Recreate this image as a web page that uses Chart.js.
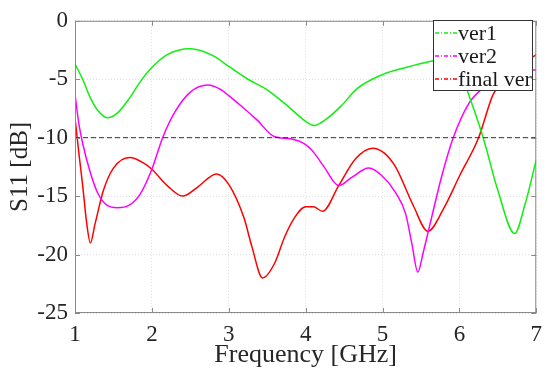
<!DOCTYPE html>
<html>
<head>
<meta charset="utf-8">
<script src="https://cdn.jsdelivr.net/npm/chart.js"></script>
<style>
  html, body { margin: 0; padding: 0; background: #fff; }
  #wrap { width: 550px; height: 380px; }
</style>
</head>
<body>
<div id="wrap"><canvas id="chart"></canvas></div>
<script>
// S11 curves (frequency in GHz, S11 in dB)
const ver1Freq = [1.0, 1.1, 1.2, 1.3, 1.42, 1.55, 1.7, 1.85, 2.0, 2.2, 2.5, 2.8, 3.0, 3.25, 3.5, 3.75, 4.0, 4.11, 4.25, 4.46, 4.67, 5.0, 5.3, 5.6, 5.8, 6.0, 6.12, 6.31, 6.5, 6.72, 6.85, 7.0];
const ver1S11 = [-3.7, -5.0, -6.6, -7.7, -8.3, -7.9, -6.7, -5.2, -4.0, -2.9, -2.4, -3.0, -3.9, -5.0, -5.9, -7.2, -8.6, -8.95, -8.5, -7.3, -5.8, -4.6, -4.0, -3.5, -3.3, -4.3, -6.3, -10.0, -14.5, -18.2, -15.8, -11.9];

const ver2Freq = [1.0, 1.05, 1.1, 1.2, 1.3, 1.42, 1.55, 1.7, 1.85, 2.0, 2.14, 2.3, 2.5, 2.73, 2.9, 3.0, 3.2, 3.37, 3.59, 3.8, 4.0, 4.11, 4.24, 4.43, 4.6, 4.82, 5.0, 5.17, 5.3, 5.38, 5.46, 5.53, 5.6, 5.77, 5.92, 6.12, 6.3, 6.6, 6.93, 7.0];
const ver2S11 = [-6.3, -8.8, -10.5, -13.0, -14.8, -15.8, -16.0, -15.8, -14.8, -12.7, -10.0, -7.8, -6.1, -5.5, -5.9, -6.4, -7.5, -8.5, -9.9, -10.1, -10.6, -11.3, -12.5, -14.1, -13.4, -12.6, -13.3, -14.7, -16.5, -19.0, -21.5, -19.8, -17.9, -13.3, -10.0, -7.1, -5.8, -4.6, -4.2, -4.2];

const finalFreq = [1.0, 1.05, 1.1, 1.15, 1.2, 1.26, 1.37, 1.5, 1.71, 1.9, 2.0, 2.2, 2.4, 2.6, 2.84, 3.0, 3.2, 3.3, 3.44, 3.6, 3.72, 3.85, 4.0, 4.1, 4.22, 4.43, 4.65, 4.87, 5.02, 5.17, 5.4, 5.59, 5.8, 6.0, 6.25, 6.44, 6.7, 6.93, 7.0];
const finalS11 = [-8.3, -11.3, -14.1, -17.2, -19.0, -17.4, -14.5, -12.6, -11.7, -12.2, -12.7, -14.1, -15.0, -14.2, -13.1, -14.0, -16.9, -19.3, -22.0, -20.7, -18.6, -16.9, -15.9, -15.9, -16.3, -14.1, -11.8, -10.9, -11.3, -12.5, -15.8, -18.0, -16.0, -13.3, -10.0, -6.3, -4.3, -3.2, -2.9];

const refFreq = [1, 7];
const refS11 = [-10, -10];

const seriesLabels = ['ver1', 'ver2', 'final ver'];
const seriesColors = ['#11ee11', '#ff00ff', '#ff0000'];
const xTicks = [1, 2, 3, 4, 5, 6, 7];
const yTicks = [0, -5, -10, -15, -20, -25];

const SERIF = '"Liberation Serif", "DejaVu Serif", serif';

function toPoints(xs, ys) {
    return xs.map((x, i) => ({ x: x, y: ys[i] }));
}

// box, inward ticks and the legend, drawn MATLAB style
const matlabAxes = {
    id: 'matlabAxes',
    afterDatasetsDraw(chart) {
        const ctx = chart.ctx;
        const a = chart.chartArea;
        const xs = chart.scales.x, ys = chart.scales.y;
        ctx.save();
        ctx.strokeStyle = '#8a8a8a';
        ctx.lineWidth = 1;
        ctx.setLineDash([]);
        ctx.strokeRect(a.left + 0.5, a.top + 0.5, a.right - a.left - 1, a.bottom - a.top - 1);
        ctx.beginPath();
        xTicks.forEach(v => {
            const px = Math.round(xs.getPixelForValue(v)) + 0.5;
            ctx.moveTo(px, a.bottom); ctx.lineTo(px, a.bottom - 5);
            ctx.moveTo(px, a.top); ctx.lineTo(px, a.top + 5);
        });
        yTicks.forEach(v => {
            const py = Math.round(ys.getPixelForValue(v)) + 0.5;
            ctx.moveTo(a.left, py); ctx.lineTo(a.left + 5, py);
            ctx.moveTo(a.right, py); ctx.lineTo(a.right - 5, py);
        });
        ctx.stroke();

        // legend in upper right corner
        const lx = 433, ly = 20, lw = 99, lh = 70;
        ctx.fillStyle = '#fff';
        ctx.fillRect(lx, ly, lw, lh);
        ctx.strokeStyle = '#333';
        ctx.strokeRect(lx + 0.5, ly + 0.5, lw, lh);
        ctx.font = '22px ' + SERIF;
        ctx.textBaseline = 'middle';
        ctx.textAlign = 'left';
        seriesLabels.forEach((lab, i) => {
            const y = ly + 13 + i * 23;
            ctx.strokeStyle = seriesColors[i];
            ctx.lineWidth = 1.5;
            ctx.setLineDash([4, 2, 1, 2]);
            ctx.beginPath();
            ctx.moveTo(lx + 2, y); ctx.lineTo(lx + 24, y);
            ctx.stroke();
            ctx.fillStyle = '#1a1a1a';
            ctx.fillText(lab, lx + 25, y + 1);
        });
        ctx.restore();
    }
};

const datasets = [
    {
        label: 'ref',
        data: toPoints(refFreq, refS11),
        borderColor: '#333',
        borderWidth: 1,
        borderDash: [5, 3],
        pointRadius: 0
    }
];
[[ver1Freq, ver1S11], [ver2Freq, ver2S11], [finalFreq, finalS11]].forEach((s, i) => {
    datasets.push({
        label: seriesLabels[i],
        data: toPoints(s[0], s[1]),
        borderColor: seriesColors[i],
        borderWidth: 1.5,
        cubicInterpolationMode: 'monotone',
        pointRadius: 0
    });
});

const ctx = document.getElementById('chart').getContext('2d');
new Chart(ctx, {
    type: 'line',
    data: { datasets: datasets },
    options: {
        responsive: true,
        maintainAspectRatio: false,
        animation: false,
        layout: { padding: { top: 15, right: 12, left: 0, bottom: 0 } },
        plugins: {
            legend: { display: false },
            tooltip: { enabled: false }
        },
        scales: {
            x: {
                type: 'linear',
                min: 1,
                max: 7,
                afterBuildTicks: s => { s.ticks = xTicks.map(v => ({ value: v })); },
                afterFit: s => { s.height = 67; },
                ticks: {
                    color: '#262626',
                    font: { family: SERIF, size: 23 },
                    padding: 8,
                    maxRotation: 0
                },
                grid: { color: 'rgba(0,0,0,0.13)', drawTicks: false },
                border: { display: false, dash: [1, 2] },
                title: {
                    display: true,
                    text: 'Frequency [GHz]',
                    color: '#262626',
                    font: { family: SERIF, size: 26 },
                    padding: { top: 0, bottom: 9 }
                }
            },
            y: {
                type: 'linear',
                min: -25,
                max: 0,
                afterBuildTicks: s => { s.ticks = yTicks.map(v => ({ value: v })); },
                afterFit: s => { s.width = 75; },
                ticks: {
                    color: '#262626',
                    font: { family: SERIF, size: 23 },
                    padding: 7
                },
                grid: { color: 'rgba(0,0,0,0.13)', drawTicks: false },
                border: { display: false, dash: [1, 2] },
                title: {
                    display: true,
                    text: 'S11 [dB]',
                    color: '#262626',
                    font: { family: SERIF, size: 25 },
                    padding: { top: 5, bottom: 0 }
                }
            }
        }
    },
    plugins: [matlabAxes]
});
</script>
</body>
</html>
